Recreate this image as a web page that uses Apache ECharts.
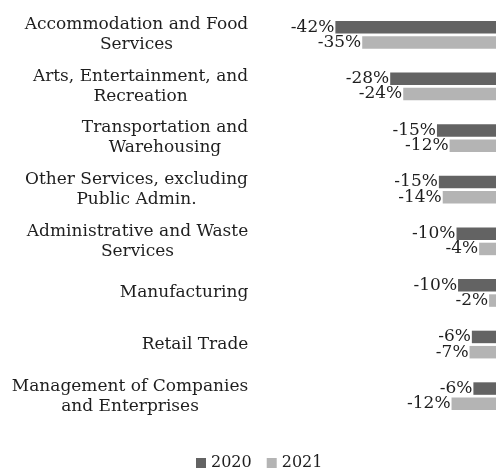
<!DOCTYPE html>
<html>
<head>
<meta charset="utf-8">
<script src="https://cdn.jsdelivr.net/npm/echarts@6/dist/echarts.min.js"></script>
<style>
  html, body { margin: 0; padding: 0; background: #fff; }
  #chart { width: 496px; height: 470px; }
</style>
</head>
<body>
<div id="chart"></div>
<script>
var categories = [
  'Accommodation and Food\nServices',
  'Arts, Entertainment, and\nRecreation',
  'Transportation and\nWarehousing',
  'Other Services, excluding\nPublic Admin.',
  'Administrative and Waste\nServices',
  'Manufacturing',
  'Retail Trade',
  'Management of Companies\nand Enterprises'
];
var values2020 = [-41.9, -27.6, -15.4, -14.9, -10.3, -9.9, -6.3, -5.9];
var values2021 = [-34.9, -24.2, -12.1, -13.9, -4.4, -1.8, -6.9, -11.6];
var seriesNames = ['2020', '2021'];

var FONT = 'DejaVu Serif';
var FSIZE = 17;

// measure lines so two-line labels are centred on each other but right aligned as a block
var ctx = document.createElement('canvas').getContext('2d');
ctx.font = FSIZE + 'px "' + FONT + '"';
var rich = {};
categories.forEach(function (c, i) {
  var w = 0;
  c.split('\n').forEach(function (l) { w = Math.max(w, ctx.measureText(l).width); });
  rich['c' + i] = {
    width: Math.ceil(w) + 1,
    align: 'center',
    fontFamily: FONT,
    fontSize: FSIZE,
    lineHeight: 20,
    color: '#1e1e1e'
  };
});

var chart = echarts.init(document.getElementById('chart'));

function pctLabel(p) {
  return '-' + Math.abs(p.value).toFixed(0) + '%';
}

chart.setOption({
  animation: false,
  textStyle: { fontFamily: FONT },
  grid: { left: 266, right: -4, top: 9, bottom: 48 },
  legend: {
    data: seriesNames,
    left: 191,
    top: 450,
    icon: 'rect',
    itemWidth: 10,
    itemHeight: 10,
    itemGap: 15,
    textStyle: { fontFamily: FONT, fontSize: 16, color: '#1e1e1e' }
  },
  xAxis: {
    type: 'value',
    min: -60,
    max: 0,
    show: false
  },
  yAxis: {
    type: 'category',
    inverse: true,
    data: categories,
    axisLine: { show: false },
    axisTick: { show: false },
    axisLabel: {
      margin: 17,
      align: 'right',
      fontFamily: FONT,
      fontSize: FSIZE,
      color: '#1e1e1e',
      rich: rich,
      formatter: function (v, i) {
        return v.split('\n').map(function (l) { return '{c' + i + '|' + l + '}'; }).join('\n');
      }
    }
  },
  series: [{
    name: seriesNames[0],
    type: 'bar',
    data: values2020,
    barWidth: 12.5,
    barGap: '22%',
    itemStyle: { color: '#636363' },
    label: {
      show: true,
      position: 'left',
      distance: 1,
      fontFamily: FONT,
      fontSize: FSIZE,
      color: '#1e1e1e',
      formatter: pctLabel
    }
  }, {
    name: seriesNames[1],
    type: 'bar',
    data: values2021,
    barWidth: 12.5,
    itemStyle: { color: '#b4b4b4' },
    label: {
      show: true,
      position: 'left',
      distance: 1,
      fontFamily: FONT,
      fontSize: FSIZE,
      color: '#1e1e1e',
      formatter: pctLabel
    }
  }]
});
</script>
</body>
</html>
